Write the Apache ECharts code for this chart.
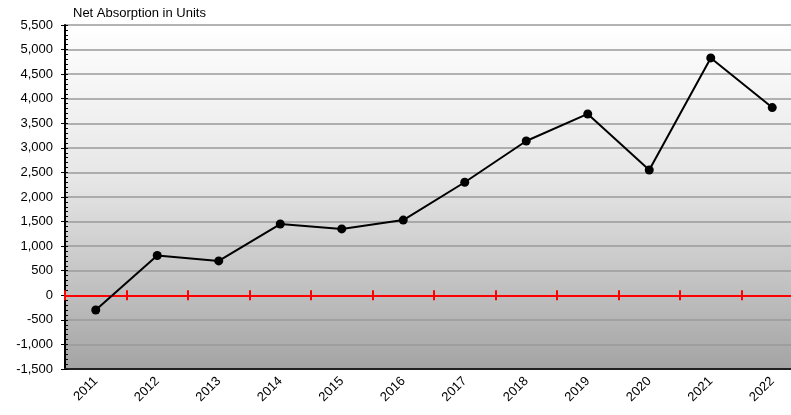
<!DOCTYPE html>
<html>
<head>
<meta charset="utf-8">
<script src="https://cdn.jsdelivr.net/npm/echarts@6/dist/echarts.min.js"></script>
<style>
  html, body { margin: 0; padding: 0; background: #fff; overflow: hidden; }
  /* the reference plot runs past the right edge of the picture */
  #chart { width: 803px; height: 415px; }
</style>
</head>
<body>
<div id="chart"></div>
<script>
const years = ['2011', '2012', '2013', '2014', '2015', '2016', '2017', '2018', '2019', '2020', '2021', '2022']
const netAbsorption = [-300, 810, 700, 1450, 1350, 1530, 2300, 3140, 3690, 2550, 4830, 3820]
const yMin = -1500
const yMax = 5500
const yStep = 500
const title = 'Net Absorption in Units'

const font = 'Liberation Sans, Arial, sans-serif'
const chart = echarts.init(document.getElementById('chart'))

// the red zero line carries tick marks on both sides, so it is drawn by two
// extra x axes sitting on zero: one with ticks up, one with ticks down
const zeroAxis = (inside) => ({
  type: 'category',
  data: years,
  position: 'top',
  axisLine: { onZero: true, lineStyle: { color: '#ff0000', width: 2 } },
  axisTick: { show: true, inside, length: 5, lineStyle: { color: '#ff0000', width: 2 } },
  axisLabel: { show: false },
  splitLine: { show: false },
  z: 5,
})

chart.setOption({
  animation: false,
  title: {
    text: title,
    left: 68,
    top: 2,
    textStyle: { fontFamily: font, fontSize: 13, fontWeight: 'normal', color: '#000' },
  },
  grid: { left: 65, right: 0, top: 25, bottom: 46 },
  xAxis: [
    {
      type: 'category',
      data: years,
      position: 'bottom',
      axisLine: { onZero: false, lineStyle: { color: '#222', width: 2 } },
      axisTick: { show: false },
      axisLabel: {
        rotate: 45,
        margin: 10,
        interval: 0,
        fontFamily: font,
        fontSize: 13,
        color: '#000',
      },
    },
    zeroAxis(false),
    zeroAxis(true),
  ],
  yAxis: [
    {
      type: 'value',
      min: yMin,
      max: yMax,
      interval: yStep,
      axisLine: { show: true, lineStyle: { color: '#000', width: 2 } },
      axisTick: { show: true, length: 4, lineStyle: { color: '#000' } },
      axisLabel: {
        margin: 12,
        fontFamily: font,
        fontSize: 13,
        color: '#000',
        formatter: (v) => v.toLocaleString('en-US'),
      },
      splitLine: { show: true, lineStyle: { color: '#9a9a9a', width: 1.5 } },
      splitArea: { show: false },
    },
    {
      type: 'value',
      min: yMin,
      max: yMax,
      interval: yStep,
      position: 'left',
      axisLine: { show: false },
      axisTick: { show: true, inside: true, length: 3, lineStyle: { color: '#000' } },
      minorTick: { show: true, splitNumber: 5, length: 3, lineStyle: { color: '#000' } },
      axisLabel: { show: false },
      splitLine: { show: false },
    },
  ],
  graphic: [
    {
      // plot background gradient
      type: 'rect',
      z: -1,
      shape: { x: 65, y: 25, width: 740, height: 344 },
      style: {
        fill: new echarts.graphic.LinearGradient(0, 0, 0, 1, [
          { offset: 0, color: '#ffffff' },
          { offset: 0.45, color: '#e6e6e6' },
          { offset: 1, color: '#a4a4a4' },
        ]),
      },
      silent: true,
    },
  ],
  series: [
    {
      name: title,
      type: 'line',
      data: netAbsorption,
      symbol: 'circle',
      symbolSize: 9,
      itemStyle: { color: '#000' },
      lineStyle: { color: '#000', width: 2 },
      z: 10,
    },
  ],
})
</script>
</body>
</html>
